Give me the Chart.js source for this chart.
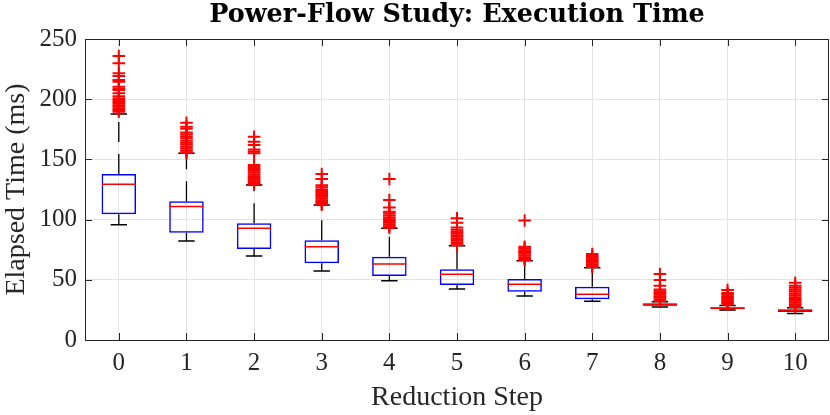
<!DOCTYPE html>
<html>
<head>
<meta charset="utf-8">
<script src="https://cdn.jsdelivr.net/npm/chart.js@4.4.1/dist/chart.umd.min.js"></script>
<style>
  html, body { margin: 0; padding: 0; background: #fff; }
</style>
</head>
<body>
<canvas id="chart" width="830" height="415"></canvas>
<script>
// reduction steps on the x axis
const steps = ['0', '1', '2', '3', '4', '5', '6', '7', '8', '9', '10'];

// box statistics per step (ms)
const q1 = [104.4, 89.1, 75.6, 63.7, 53.2, 45.7, 40.1, 33.8, 28.5, 25.5, 23.3];
const median = [129.3, 111.0, 92.8, 77.5, 63.1, 54.6, 46.3, 38.0, 29.3, 26.3, 24.3];
const q3 = [137.9, 115.2, 96.9, 82.8, 69.2, 58.7, 50.7, 44.3, 30.5, 27.2, 25.5];
const whiskerLow = [95.8, 82.2, 69.8, 57.3, 49.3, 42.4, 36.5, 32.1, 27.4, 24.9, 22.1];
const whiskerHigh = [187.7, 155.1, 128.7, 112.1, 92.8, 78.3, 65.9, 60.0, 31.8, 28.7, 26.8];

// outliers per step
const outliers = [
  [235.9, 229.8, 221.5, 219.3, 216.0, 214.6, 210.4, 208.8, 207.6, 204.9, 202.5, 200.6, 199.3, 197.8, 196.4, 195.0, 193.7, 192.3, 191.0, 189.6],
  [180.5, 177.2, 175.4, 172.4, 170.8, 169.0, 167.5, 165.6, 163.9, 162.3, 160.6, 159.0, 157.4, 156.0, 155.3],
  [168.9, 164.7, 162.0, 158.3, 156.6, 155.1, 145.3, 143.8, 142.0, 140.6, 139.1, 137.5, 136.0, 134.6, 133.2, 131.8, 130.5, 129.6],
  [137.9, 133.7, 128.5, 126.8, 125.0, 123.7, 122.1, 120.4, 118.9, 117.5, 116.0, 114.6, 113.2, 112.4],
  [133.7, 116.3, 110.0, 106.6, 105.0, 103.4, 101.8, 100.3, 98.9, 97.4, 96.0, 94.5, 93.3],
  [101.1, 97.4, 93.5, 91.6, 90.0, 88.6, 87.1, 85.7, 84.2, 82.8, 81.3, 79.9, 78.8],
  [99.3, 77.5, 76.3, 74.5, 73.0, 71.6, 70.2, 68.8, 67.5, 66.4],
  [71.5, 69.8, 68.4, 67.0, 65.6, 64.3, 63.0, 61.7, 60.6],
  [54.8, 49.8, 45.1, 42.0, 40.5, 39.1, 37.7, 36.3, 35.0, 33.6, 32.4],
  [41.5, 39.0, 37.6, 36.2, 34.8, 33.4, 32.1, 30.8, 29.5],
  [47.6, 45.0, 43.4, 41.8, 40.2, 38.6, 37.1, 35.6, 34.1, 32.6, 31.2, 29.8, 28.4, 27.5]
];

const yTicks = [0, 50, 100, 150, 200, 250];

const AXIS = '#262626';
const serif = "'Liberation Serif', 'Times New Roman', serif";

// whisker segments, broken with nulls between steps
const whiskers = [];
steps.forEach((s, i) => {
  whiskers.push({ x: s, y: q3[i] }, { x: s, y: whiskerHigh[i] }, { x: s, y: null });
  whiskers.push({ x: s, y: q1[i] }, { x: s, y: whiskerLow[i] }, { x: s, y: null });
});
const caps = [];
steps.forEach((s, i) => {
  caps.push({ x: s, y: whiskerHigh[i] }, { x: s, y: whiskerLow[i] });
});
const outlierPts = [];
outliers.forEach((list, i) => list.forEach(v => outlierPts.push({ x: steps[i], y: v })));

// axes box with inward ticks, MATLAB style
const frame = {
  id: 'frame',
  beforeDatasetsDraw(chart) {
    const { ctx, chartArea: a, scales: { x, y } } = chart;
    ctx.save();
    ctx.strokeStyle = AXIS;
    ctx.lineWidth = 1;
    ctx.beginPath();
    ctx.rect(Math.round(a.left) + 0.5, Math.round(a.top) + 0.5,
             Math.round(a.right - a.left) - 1, Math.round(a.bottom - a.top));
    x.ticks.forEach((t, i) => {
      const px = Math.round(x.getPixelForTick(i)) + 0.5;
      ctx.moveTo(px, a.bottom); ctx.lineTo(px, a.bottom - 7);
      ctx.moveTo(px, a.top); ctx.lineTo(px, a.top + 7);
    });
    y.ticks.forEach((t, i) => {
      const py = Math.round(y.getPixelForTick(i)) + 0.5;
      ctx.moveTo(a.left, py); ctx.lineTo(a.left + 7, py);
      ctx.moveTo(a.right, py); ctx.lineTo(a.right - 7, py);
    });
    ctx.stroke();
    ctx.restore();
  }
};

new Chart(document.getElementById('chart'), {
  type: 'bar',
  data: {
    labels: steps,
    datasets: [
      {
        type: 'bar',
        data: steps.map((s, i) => [q1[i], q3[i]]),
        backgroundColor: 'rgba(0,0,0,0)',
        borderColor: '#0000ff',
        borderWidth: 1.5,
        borderSkipped: false,
        barPercentage: 0.51,
        categoryPercentage: 1,
        order: 5
      },
      {
        type: 'line',
        data: whiskers,
        borderColor: '#000',
        borderWidth: 1.3,
        borderDash: [20, 12],
        pointRadius: 0,
        spanGaps: false,
        order: 4
      },
      {
        type: 'line',
        data: caps,
        showLine: false,
        pointStyle: 'line',
        pointRadius: 8.2,
        pointBorderWidth: 1.5,
        pointBorderColor: '#000',
        order: 3
      },
      {
        type: 'line',
        data: steps.map((s, i) => ({ x: s, y: median[i] })),
        showLine: false,
        pointStyle: 'line',
        pointRadius: 17,
        pointBorderWidth: 1.5,
        pointBorderColor: '#ff0000',
        order: 2
      },
      {
        type: 'line',
        data: outlierPts,
        showLine: false,
        pointStyle: 'cross',
        pointRadius: 6.3,
        pointBorderWidth: 2,
        pointBorderColor: '#ff0000',
        order: 1
      }
    ]
  },
  options: {
    responsive: false,
    devicePixelRatio: 1,
    animation: false,
    layout: { autoPadding: false, padding: { left: 0, right: 1, top: 0, bottom: 0 } },
    plugins: {
      legend: { display: false },
      tooltip: { enabled: false },
      title: {
        display: true,
        text: 'Power-Flow Study: Execution Time',
        fullSize: false,
        color: '#000',
        font: { family: "'DejaVu Serif', serif", size: 25.5, weight: 'bold', lineHeight: 1.1 },
        padding: { top: 1, bottom: 10 }
      }
    },
    scales: {
      x: {
        offset: true,
        grid: { offset: false, color: '#e3e3e3', drawTicks: false },
        border: { display: false },
        ticks: { color: '#262626', font: { family: serif, size: 25 }, padding: 8, maxRotation: 0 },
        title: { display: true, text: 'Reduction Step', color: '#262626', font: { family: serif, size: 28 }, padding: { top: 0, bottom: 1 } },
        afterFit: s => { s.height = 75; s.paddingLeft = 0; s.paddingRight = 0; }
      },
      y: {
        min: 0,
        max: 250,
        afterBuildTicks: s => { s.ticks = yTicks.map(v => ({ value: v })); },
        grid: { color: '#e3e3e3', drawTicks: false },
        border: { display: false },
        ticks: { color: '#262626', font: { family: serif, size: 25 }, padding: 8 },
        title: { display: true, text: 'Elapsed Time (ms)', color: '#262626', font: { family: serif, size: 28 }, padding: { top: 0, bottom: 0 } },
        afterFit: s => { s.width = 85; s.paddingTop = 0; s.paddingBottom = 0; }
      }
    }
  },
  plugins: [frame]
});
</script>
</body>
</html>
